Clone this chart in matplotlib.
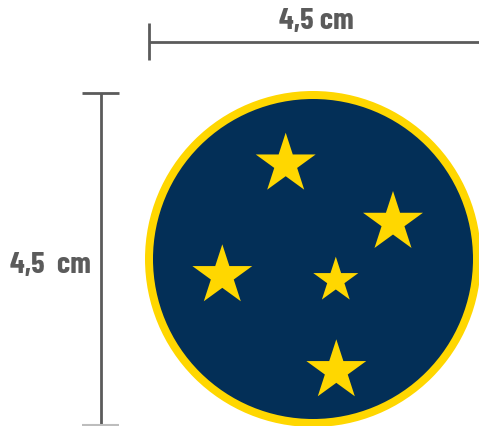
import numpy as np
import matplotlib
matplotlib.use("Agg")
import matplotlib.pyplot as plt
from matplotlib.patches import Circle, Polygon

# ---- data ----
dim_labels = ["4,5 cm", "4,5  cm"]
star_x = [285.7, 393.0, 222.3, 335.8, 336.3]
star_y = [164.2, 222.5, 275.8, 280.4, 370.8]
star_r = [31.5, 31.5, 31.5, 23.7, 31.5]
disc_center = (313.0, 259.0)
disc_outer_r = 168.0
disc_inner_r = 160.0

NAVY = "#032f57"
GOLD = "#ffd700"
GRAY = "#5b5b5b"

W, H = 479, 426
fig = plt.figure(figsize=(W / 100, H / 100), dpi=100)
ax = fig.add_axes([0, 0, 1, 1])
ax.set_xlim(0, W)
ax.set_ylim(H, 0)
ax.set_aspect("equal")
ax.axis("off")

# disc
ax.add_patch(Circle(disc_center, disc_outer_r, facecolor=GOLD, edgecolor="none"))
ax.add_patch(Circle(disc_center, disc_inner_r, facecolor=NAVY, edgecolor="none"))


def star(cx, cy, r, ratio=0.381966):
    pts = []
    for k in range(10):
        ang = -np.pi / 2 + k * np.pi / 5
        rr = r if k % 2 == 0 else r * ratio
        pts.append((cx + rr * np.cos(ang), cy + rr * np.sin(ang)))
    return pts


for x, y, r in zip(star_x, star_y, star_r):
    ax.add_patch(Polygon(star(x, y, r), closed=True, facecolor=GOLD, edgecolor="none"))

font = ["Barlow Condensed", "DejaVu Sans"]

# top dimension
ax.plot([149, 149], [23, 60], color=GRAY, lw=2.0, solid_capstyle="butt")
ax.plot([149, 479], [41.5, 41.5], color=GRAY, lw=2.0, solid_capstyle="butt")
ax.text(316.5, 22, dim_labels[0], ha="center", va="center", fontsize=22,
        fontweight=700, color=GRAY, family=font)

# left dimension
ax.plot([100.7, 100.7], [93.3, 426], color=GRAY, lw=2.0, solid_capstyle="butt")
ax.plot([82.5, 119.5], [93.3, 93.3], color=GRAY, lw=2.0, solid_capstyle="butt")
ax.plot([82.5, 119.5], [425, 425], color="#bdbdbd", lw=1.5, solid_capstyle="butt")
ax.text(50.5, 265, dim_labels[1], ha="center", va="center", fontsize=22,
        fontweight=700, color=GRAY, family=font)

fig.savefig("out.png", dpi=100)
